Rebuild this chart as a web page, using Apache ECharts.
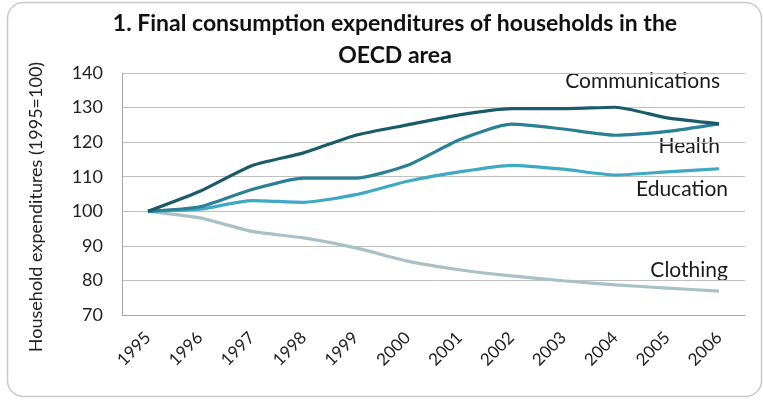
<!DOCTYPE html>
<html>
<head>
<meta charset="utf-8">
<script src="https://cdn.jsdelivr.net/npm/echarts@6/dist/echarts.min.js"></script>
<style>
  html, body { margin: 0; padding: 0; background: #fff; }
  #chart { width: 763px; height: 400px; }
</style>
</head>
<body>
<div id="chart"></div>
<script>
// 1995=100 index
const years = ['1995', '1996', '1997', '1998', '1999', '2000', '2001', '2002', '2003', '2004', '2005', '2006'];
const communications = [100, 105.8, 113.2, 116.9, 122, 125, 127.9, 129.7, 129.7, 130.1, 127, 125.3];
const health = [100, 101.3, 106.3, 109.6, 109.6, 113.3, 120.7, 125.2, 123.8, 122, 123.1, 125.3];
const education = [100, 100.6, 103.1, 102.6, 104.8, 108.7, 111.4, 113.3, 112.2, 110.5, 111.4, 112.3];
const clothing = [100, 98.1, 94.2, 92.3, 89.4, 85.6, 83.1, 81.3, 79.9, 78.7, 77.8, 76.9];
const yTicks = { min: 70, max: 140, interval: 10 };

const FONT = 'Lato, "Open Sans", sans-serif';

const chart = echarts.init(document.getElementById('chart'), null, { renderer: 'canvas' });

function line(name, data, color) {
  return {
    name,
    type: 'line',
    data,
    smooth: 0.2,
    symbol: 'none',
    lineStyle: { color, width: 3.2 },
    itemStyle: { color },
  };
}

// series names placed to the right of the line ends, like the original
function tag(text, right, midY) {
  return {
    type: 'text',
    right,
    top: midY - 13,
    style: { text, font: '21px ' + FONT, fill: '#1a1a1a' },
  };
}

chart.setOption({
  backgroundColor: '#fff',
  animation: false,
  title: {
    text: '1. Final consumption expenditures of households in the\nOECD area',
    left: 390,
    textAlign: 'center',
    top: 3,
    textStyle: { fontFamily: FONT, fontSize: 23, fontWeight: 'bold', color: '#111', lineHeight: 32 },
  },
  grid: { left: 122, right: 18, top: 73, bottom: 85 },
  xAxis: {
    type: 'category',
    data: years,
    boundaryGap: true,
    axisLine: { lineStyle: { color: '#a6a6a6', width: 1 } },
    axisTick: { show: false },
    axisLabel: { rotate: 45, fontFamily: FONT, fontSize: 17, color: '#222', margin: 20 },
  },
  yAxis: {
    type: 'value',
    min: yTicks.min,
    max: yTicks.max,
    interval: yTicks.interval,
    axisLine: { show: true, lineStyle: { color: '#a6a6a6', width: 1 } },
    axisTick: { show: false },
    axisLabel: { fontFamily: FONT, fontSize: 18, color: '#222', margin: 19 },
    splitLine: { lineStyle: { color: '#c0c0c0', width: 1 } },
  },
  series: [
    line('Clothing', clothing, '#a9c0c6'),
    line('Education', education, '#3fa8c2'),
    line('Health', health, '#2a8094'),
    line('Communications', communications, '#1a5a69'),
  ],
  graphic: [
    {
      type: 'rect',
      shape: { x: 7.5, y: 2.5, width: 754, height: 394, r: 16 },
      style: { fill: 'none', stroke: '#c8c8c8', lineWidth: 1.5 },
      silent: true,
    },
    {
      // y axis title, centred a little below the plot middle as in the original
      type: 'text',
      x: 36,
      y: 207,
      rotation: Math.PI / 2,
      style: {
        text: 'Household expenditures (1995=100)',
        font: '18px ' + FONT,
        fill: '#222',
        align: 'center',
        verticalAlign: 'middle',
      },
    },
    tag('Communications', 43, 84),
    tag('Health', 43, 149),
    tag('Education', 35, 192),
    tag('Clothing', 35, 273),
  ],
});

window.addEventListener('resize', () => chart.resize());
</script>
</body>
</html>
